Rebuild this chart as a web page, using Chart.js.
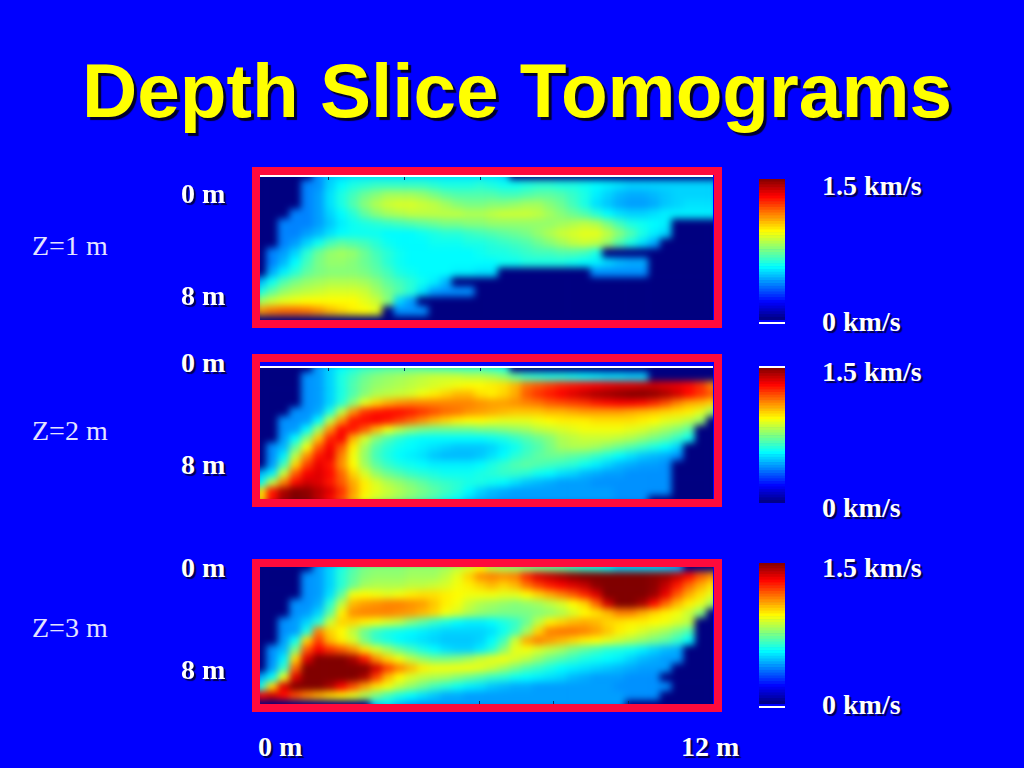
<!DOCTYPE html>
<html>
<head>
<meta charset="utf-8">
<title>Depth Slice Tomograms</title>
<script src="https://cdn.jsdelivr.net/npm/chart.js@4"></script>
<style>
html, body { margin: 0; padding: 0; width: 1024px; height: 768px; overflow: hidden; background: #0000ff; }
.txt { position: absolute; white-space: nowrap; font-family: "Liberation Serif", serif; color: #fff; }
.lab { font-size: 28px; line-height: 30px; font-weight: bold; text-shadow: 2px 2px 1px #00004a; }
.zed { font-size: 28px; line-height: 30px; color: #e4e4ff; }
#title { position: absolute; left: 5px; top: 45px; width: 1024px; text-align: center; white-space: nowrap; font-family: "Liberation Sans", sans-serif; font-weight: bold; font-size: 76.5px; line-height: 92px; color: #ffff00; text-shadow: 3px 3px 1px #00002a; }
.img { position: absolute; overflow: hidden; background: #000088; }
.img canvas { position: absolute; filter: blur(3.5px); }
.frame { position: absolute; border: 8px solid #ff0a3c; box-sizing: border-box; }
.rule { position: absolute; background: #fff; height: 2px; }
.tick { position: absolute; background: #00306a; width: 1px; height: 3px; }
.bar { position: absolute; }
</style>
</head>
<body>
<div id="title">Depth Slice Tomograms</div>
<script>
"use strict";

// velocity in 0.01 km/s, top row first, trailing navy cells left out
var velocityMax = 150;
var colorbarLevels = [0, 3, 6, 9, 12, 15, 18, 21, 24, 27, 30, 33, 36, 39, 42, 45, 48, 51, 54, 57, 60, 63, 66, 69, 72, 75, 78, 81, 84, 87, 90, 93, 96, 99, 102, 105, 108, 111, 114, 117, 120, 123, 126, 129, 132, 135, 138, 141, 144, 147];

var z1Rows = [
    [0,0,0,0,0,40,48,50,52,52,52,52,52,52,52,52,52,52,52,52,52,50],
    [0,0,0,0,38,40,50,56,60,62,64,64,64,64,64,62,60,60,60,62,60,58,58,60,62,62,60,60,58,56,54,52,50,50,50,50,50,50,50,50],
    [0,0,0,0,38,42,52,60,66,72,76,80,80,80,78,74,70,68,68,68,68,66,66,68,70,70,68,64,60,54,50,46,44,44,46,48,50,50,50,50],
    [0,0,0,0,38,42,52,60,68,76,82,86,88,88,86,84,80,76,74,74,76,76,78,80,80,76,72,66,60,52,48,44,42,42,44,48,50,52,52,52],
    [0,0,0,38,38,42,50,56,62,70,76,80,82,84,84,84,84,84,82,82,84,86,86,86,84,80,76,72,68,62,56,52,50,50,52,54,54,54,54,54],
    [0,0,38,38,38,42,48,54,58,60,62,64,66,68,70,72,74,74,76,76,78,78,78,78,78,78,80,82,84,82,74,66,60,58,56,54],
    [0,0,38,38,42,46,52,56,58,58,58,56,56,56,58,60,62,62,64,66,68,70,72,74,78,82,86,88,90,90,84,76,68,60,54,50],
    [0,0,38,42,50,58,66,70,68,66,62,58,56,56,56,58,58,58,60,60,62,64,66,68,72,76,80,84,86,84,78,68,60,52,44],
    [0,38,42,50,62,72,78,80,78,72,66,62,58,56,56,56,56,56,56,58,60,60,62,64,66,66,68,68,66,60],
    [0,38,46,56,66,74,78,78,76,72,68,62,58,56,56,56,56,56,56,56,56,58,58,60,60,60,60,58,56,54,50,46,44,44],
    [0,44,54,62,70,74,76,76,76,74,70,66,60,58,56,56,56,54,54,52,52,0,0,0,0,0,0,0,0,40,40,40,40,40],
    [46,58,68,74,78,80,82,82,82,80,76,70,66,62,58,54,46],
    [60,70,78,82,84,86,88,88,88,86,80,74,68,62,52,42,40,40,40],
    [80,86,90,92,94,94,94,94,94,90,86,76,50,42],
    [110,114,116,116,114,110,104,100,96,94,90,0,40,40,40],
    []
];

var z2Rows = [
    [0,0,0,0,0,42,50,56,60,64,66,68,68,68,68,66,66,64,64,64,62,60],
    [0,0,0,0,40,42,50,60,66,72,76,78,80,82,84,86,86,86,84,84,82,78,70,64,62,60,60,58,56,54,52,52,50,50],
    [0,0,0,0,40,42,50,60,68,74,78,80,82,84,86,88,90,92,94,94,96,98,104,114,118,122,126,128,130,132,134,136,136,138,138,136,134,130,124,112],
    [0,0,0,0,40,42,50,60,68,76,82,84,86,88,92,96,100,104,104,98,96,100,106,118,124,128,132,136,140,144,146,148,150,150,148,144,138,130,124,118],
    [0,0,0,0,40,42,50,62,76,90,100,106,110,112,112,112,112,112,112,110,108,108,110,112,114,118,120,122,124,128,130,132,132,130,126,120,112,106,104,100],
    [0,0,0,40,40,44,60,84,110,124,128,130,130,128,124,120,116,114,110,108,106,104,102,102,102,104,104,106,108,108,108,108,106,104,102,100,98,96,90,80],
    [0,0,40,40,42,56,84,110,128,130,132,128,122,116,110,104,100,96,94,94,92,90,90,90,92,94,96,96,96,98,98,98,98,96,94,90,88,84,78],
    [0,0,40,42,56,80,110,130,128,118,104,92,84,78,74,72,72,72,72,74,74,76,78,80,84,86,88,90,92,92,92,92,90,88,84,80,76,70],
    [0,0,42,56,76,102,126,132,105,88,76,68,62,58,56,56,56,56,56,56,58,60,64,68,72,76,82,84,86,86,86,84,82,78,74,70,64,58],
    [0,40,46,70,92,118,132,118,96,80,68,62,58,56,54,52,50,48,48,48,50,54,58,64,68,74,80,82,82,80,76,72,68,64,60,56,50],
    [0,40,54,84,110,128,134,112,92,78,66,60,56,54,52,48,46,46,46,48,52,56,62,66,70,72,72,70,68,64,60,56,52,48,46,44,40],
    [0,42,66,100,122,134,128,110,94,80,70,64,60,58,56,54,54,54,54,56,60,64,68,70,68,66,64,62,58,54,50,46,44,42,42,40],
    [46,54,86,118,132,136,130,116,100,88,78,72,68,64,62,60,58,58,58,60,62,64,64,62,58,56,52,50,46,44,42,42,40,40,40,40],
    [56,84,112,130,138,136,128,118,106,96,88,82,78,74,70,66,64,62,60,60,58,56,52,48,46,44,42,42,42,40,40,40,40,40,40,40],
    [98,128,144,150,148,142,136,124,108,96,90,86,82,78,74,70,66,62,56,50,46,44,42,42,42,42,42,42,42,42,42,40,40,40,40,40],
    [100,130,145,150,148,140,130,120,105,92,86,82,78,74,70,66,60,56,50,46,44,42,42,42,42,42,42,42,42,42,42,40,40,40]
];

var z3Rows = [
    [0,0,0,0,0,42,50,60,68,74,76,76,76,78,78,78,80,84,88,94,84,80,78,76,74,72,70,66,62,60,56,50,50,50,50,48,44],
    [0,0,0,0,40,42,50,62,70,76,78,78,78,80,80,80,84,90,100,110,112,110,112,125,136,140,144,148,150,150,150,150,150,150,148,146,140,130,118,110],
    [0,0,0,0,40,42,50,62,72,80,82,82,82,84,84,86,88,92,96,100,104,100,104,114,122,128,132,136,140,148,150,150,150,150,148,140,128,116,106,98],
    [0,0,0,0,40,42,52,70,92,94,92,90,92,96,98,98,96,94,92,92,92,90,90,94,100,106,112,118,126,136,150,150,150,150,146,134,118,106,98,90],
    [0,0,0,40,40,44,62,84,104,108,110,112,112,110,108,102,96,92,86,82,80,78,76,78,80,84,88,94,100,116,138,150,150,144,130,116,104,96,90,80],
    [0,0,0,40,42,50,70,96,110,112,112,112,110,108,104,100,92,88,82,78,76,74,74,74,76,78,82,88,94,98,104,112,112,106,100,96,92,86,76],
    [0,0,40,42,50,62,86,100,100,96,92,88,84,76,70,64,60,56,54,54,56,60,64,72,84,96,100,104,106,104,100,98,96,96,94,92,88,84],
    [0,0,40,42,60,112,100,94,84,72,64,60,58,56,54,52,50,50,50,50,52,58,66,80,100,112,114,114,112,108,102,96,92,88,84,80,74,68],
    [0,0,42,58,100,122,104,96,88,74,64,60,56,54,52,50,48,48,48,50,56,66,86,106,112,108,104,100,96,94,90,86,82,78,74,70,64,56],
    [0,40,46,74,118,132,124,118,110,98,88,80,72,66,60,56,52,50,50,54,62,76,90,92,88,84,80,74,70,66,62,60,58,54,50,46,44],
    [0,40,54,100,136,150,150,150,144,128,110,100,92,84,78,74,74,76,80,86,90,92,88,84,78,72,68,64,60,58,56,54,50,46,44,42,42],
    [0,42,64,116,150,150,150,150,150,150,138,122,112,104,96,92,92,92,92,90,86,80,74,68,64,60,56,54,52,50,48,46,44,42,42,42],
    [44,56,90,136,150,150,150,150,150,144,122,104,94,88,84,82,80,76,72,68,64,62,58,56,54,52,50,46,44,42,42,42,40,40,40],
    [60,100,136,150,150,150,144,132,120,108,98,92,84,78,72,66,62,58,54,52,48,46,44,44,42,42,42,42,42,42,42,40,40,40,40,40],
    [132,138,130,120,112,106,100,96,90,82,74,66,60,56,52,48,44,44,42,42,42,42,42,42,42,42,42,42,42,42,42,42,40,40,40],
    [0,0,0,0,0,0,0,0,0,0,50,54,48,44,42,42,42,42,42,42,42,42,42,42,42,42,42,42,42,42,42,42]
];

var depthTicks = ["0 m", "8 m"];
var offsetTicks = ["0 m", "12 m"];
var scaleTicks = ["1.5 km/s", "0 km/s"];
var sliceLabels = ["Z=1 m", "Z=2 m", "Z=3 m"];

// layout of the slide, in page pixels
var panels = [
    { rows: z1Rows, frame: [252, 167, 470, 161], image: [260, 175, 453, 145], rule: 175, ticks: [[328, 177], [404, 177], [480, 177]], bar: [759, 179, 26, 141], barRule: 322, depthY: [179, 281], zedY: 231, scaleY: [171, 307] },
    { rows: z2Rows, frame: [252, 354, 470, 153], image: [260, 368, 453, 131], rule: 366, ticks: [[328, 368], [404, 368], [480, 368]], bar: [759, 368, 26, 135], barRule: 366, depthY: [348, 450], zedY: 416, scaleY: [357, 493] },
    { rows: z3Rows, frame: [252, 559, 470, 153], image: [260, 567, 453, 137], rule: null, ticks: [[479, 701], [553, 701], [628, 701]], bar: [759, 563, 26, 141], barRule: 706, depthY: [553, 655], zedY: 613, scaleY: [553, 690] }
];
var bleed = 5;

function jet(value) {
    var t = value / velocityMax;
    function ch(center) {
        return Math.round(255 * Math.max(0, Math.min(1, 1.5 - Math.abs(4 * t - center))));
    }
    var blue = t < 0.125 ? Math.round(128 + t * 8 * 127) : ch(1);
    return "rgb(" + ch(3) + ", " + ch(2) + ", " + blue + ")";
}

function addEl(tag, cls, box) {
    var el = document.createElement(tag);
    el.className = cls;
    el.style.left = box[0] + "px";
    el.style.top = box[1] + "px";
    if (box[2] !== undefined) el.style.width = box[2] + "px";
    if (box[3] !== undefined) el.style.height = box[3] + "px";
    document.body.appendChild(el);
    return el;
}

function addText(text, cls, x, y) {
    addEl("div", "txt " + cls, [x, y]).textContent = text;
}

function hiddenScales(yMin, yMax, reverse) {
    return {
        x: { display: false, stacked: false },
        y: { display: false, min: yMin, max: yMax, reverse: reverse }
    };
}

function baseOptions(scales) {
    return {
        responsive: false,
        animation: false,
        events: [],
        layout: { padding: 0 },
        plugins: { legend: { display: false }, tooltip: { enabled: false } },
        scales: scales
    };
}

function drawSlice(parent, rows, w, h) {
    var canvas = document.createElement("canvas");
    canvas.width = w + bleed * 2;
    canvas.height = h + bleed * 2;
    canvas.style.left = -bleed + "px";
    canvas.style.top = -bleed + "px";
    parent.appendChild(canvas);

    var colLabels = [];
    for (var c = 0; c < 40; c++) colLabels.push(c);

    var datasets = rows.map(function(row, r) {
        return {
            data: colLabels.map(function() { return [r, r + 1]; }),
            backgroundColor: colLabels.map(function(col) { return jet(row[col] || 0); }),
            borderWidth: 0,
            grouped: false,
            barPercentage: 1,
            categoryPercentage: 1
        };
    });

    new Chart(canvas.getContext("2d"), {
        type: "bar",
        data: { labels: colLabels, datasets: datasets },
        options: baseOptions(hiddenScales(0, rows.length, true))
    });
}

function drawColorbar(box) {
    var canvas = addEl("canvas", "bar", [box[0], box[1]]);
    canvas.width = box[2];
    canvas.height = box[3];

    new Chart(canvas.getContext("2d"), {
        type: "bar",
        data: {
            labels: ["v"],
            datasets: colorbarLevels.map(function(level) {
                return {
                    data: [[level, level + 3]],
                    backgroundColor: jet(level + 1.5),
                    borderWidth: 0,
                    grouped: false,
                    barPercentage: 1,
                    categoryPercentage: 1
                };
            })
        },
        options: baseOptions(hiddenScales(0, velocityMax, false))
    });
}

panels.forEach(function(p, i) {
    var holder = addEl("div", "img", p.image);
    drawSlice(holder, p.rows, p.image[2], p.image[3]);
    addEl("div", "frame", p.frame);
    if (p.rule !== null) addEl("div", "rule", [260, p.rule, 453]);
    p.ticks.forEach(function(t) { addEl("div", "tick", t); });

    drawColorbar(p.bar);
    addEl("div", "rule", [759, p.barRule, 26]);

    addText(depthTicks[0], "lab", 181, p.depthY[0]);
    addText(depthTicks[1], "lab", 181, p.depthY[1]);
    addText(sliceLabels[i], "zed", 32, p.zedY);
    addText(scaleTicks[0], "lab", 822, p.scaleY[0]);
    addText(scaleTicks[1], "lab", 822, p.scaleY[1]);
});

addText(offsetTicks[0], "lab", 258, 732);
addText(offsetTicks[1], "lab", 681, 732);
</script>
</body>
</html>
